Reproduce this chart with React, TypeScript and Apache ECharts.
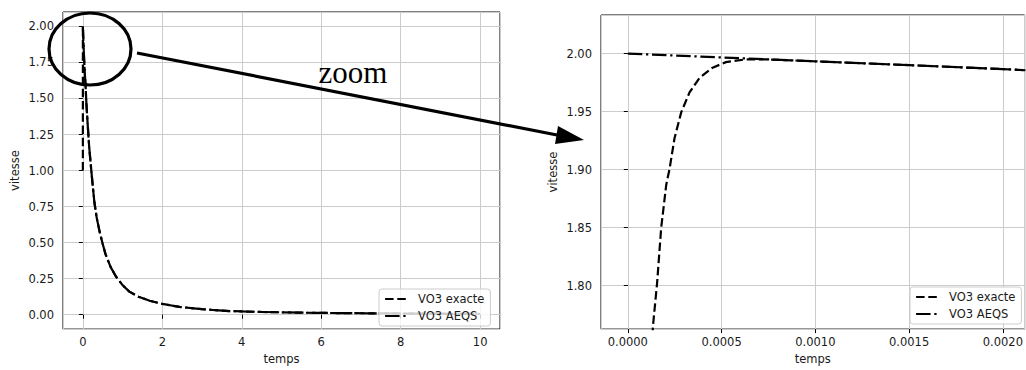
import React, { useEffect, useRef } from "react";
import * as echarts from "echarts";

// ---- Data ----
const seriesNames = ["VO3 exacte", "VO3 AEQS"];

// Left chart: full time range
const leftExacteTimes = [0, 0.0007, 0.015, 0.03, 0.05, 0.067, 0.09, 0.126, 0.16, 0.21, 0.25, 0.29, 0.35, 0.42, 0.5, 0.57, 0.7, 0.84, 1.0, 1.17, 1.4, 1.68, 2.0, 2.43, 3.0, 3.7, 4.5, 5.47, 6.5, 7.56, 8.7, 10];
const leftExacte = [1.0, 1.995, 1.89, 1.78, 1.67, 1.595, 1.46, 1.3, 1.16, 1.008, 0.89, 0.78, 0.67, 0.578, 0.49, 0.42, 0.33, 0.262, 0.205, 0.16, 0.125, 0.097, 0.075, 0.054, 0.038, 0.025, 0.019, 0.014, 0.011, 0.009, 0.007, 0.005];
const leftAeqsTimes = [0, 0.015, 0.03, 0.05, 0.067, 0.09, 0.126, 0.16, 0.21, 0.25, 0.29, 0.35, 0.42, 0.5, 0.57, 0.7, 0.84, 1.0, 1.17, 1.4, 1.68, 2.0, 2.43, 3.0, 3.7, 4.5, 5.47, 6.5, 7.56, 8.7, 10];
const leftAeqs = [2.0, 1.89, 1.78, 1.67, 1.595, 1.46, 1.3, 1.16, 1.008, 0.89, 0.78, 0.67, 0.578, 0.49, 0.42, 0.33, 0.262, 0.205, 0.16, 0.125, 0.097, 0.075, 0.054, 0.038, 0.025, 0.019, 0.014, 0.011, 0.009, 0.007, 0.005];

// Right chart: zoom on the first instants
const rightExacteTimes = [0, 0.00005, 0.0001, 0.000134, 0.000156, 0.000178, 0.000205, 0.000223, 0.000249, 0.000285, 0.000329, 0.000382, 0.000452, 0.000523, 0.000629, 0.00075, 0.001, 0.0015, 0.002, 0.00212];
const rightExacte = [1.0, 1.42, 1.66, 1.765, 1.802, 1.85, 1.887, 1.901, 1.927, 1.9495, 1.9665, 1.979, 1.9878, 1.9926, 1.995, 1.9949, 1.9933, 1.99, 1.9866, 1.9856];
const rightAeqsTimes = [0, 0.0005, 0.001, 0.0015, 0.002, 0.00212];
const rightAeqs = [2.0, 1.9966, 1.9933, 1.99, 1.9866, 1.9856];

const xAxisName = "temps";
const yAxisName = "vitesse";
const annotationText = "zoom";

const FONT = "DejaVu Sans";
const TXT = "#1a1a1a";

function pairs(ts: number[], vs: number[]) {
  return ts.map((t, i) => [t, vs[i]]);
}

function axis(gridIndex: number, min: number, max: number, step: number, decimals: number, name: string, nameGap: number, isX: boolean) {
  return {
    type: "value",
    gridIndex,
    min,
    max,
    minInterval: step,
    maxInterval: step,
    splitNumber: Math.round((max - min) / step),
    name,
    nameLocation: "middle",
    nameGap,
    nameTextStyle: { fontFamily: FONT, fontSize: 11.5, color: TXT },
    axisLine: { show: false },
    axisTick: { show: true, length: 4, lineStyle: { color: "#000", width: 1 } },
    axisLabel: {
      show: true,
      showMinLabel: false,
      showMaxLabel: false,
      margin: isX ? 7 : 9,
      fontFamily: FONT,
      fontSize: 11.5,
      color: TXT,
      formatter: (v: number) => (Math.abs(v) < 1e-12 ? 0 : v).toFixed(decimals),
    },
    splitLine: { show: true, lineStyle: { color: "#cccccc", width: 1 } },
  };
}

const dashed = [8.5, 3.7];
const dashDot = [14.5, 3.7, 2.3, 3.7];

function legend(left: number, top: number) {
  return {
    orient: "vertical",
    left,
    top,
    selectedMode: false,
    data: seriesNames,
    itemWidth: 22,
    itemHeight: 14,
    itemGap: 5,
    padding: [4, 6, 4, 5],
    backgroundColor: "rgba(255,255,255,0.8)",
    borderColor: "#cccccc",
    borderWidth: 1,
    borderRadius: 3,
    lineStyle: { width: 2.2 },
    itemStyle: { color: "rgba(0,0,0,0)", borderColor: "rgba(0,0,0,0)", borderWidth: 0, opacity: 0 },
    textStyle: { fontFamily: FONT, fontSize: 11.5, color: TXT, padding: [0, 0, 0, 6] },
  };
}

export default function App() {
  const ref = useRef<HTMLDivElement>(null);
  useEffect(() => {
    if (!ref.current) return;
    const chart = echarts.init(ref.current, null, { renderer: "svg" });
    const lineSeries = (name: string, xi: number, data: number[][], type: number[]) => ({
      type: "line",
      name,
      xAxisIndex: xi,
      yAxisIndex: xi,
      data,
      symbol: "none",
      showSymbol: false,
      clip: true,
      lineStyle: { color: "#000", width: 2.2, type },
      itemStyle: { color: "#000" },
    });
    chart.setOption({
      animation: false,
      grid: [
        { left: 63, top: 12, width: 437, height: 324.5, show: true, borderColor: "#000", borderWidth: 1, backgroundColor: "transparent", containLabel: false },
        { left: 601, top: 15, width: 426, height: 318, show: true, borderColor: "#000", borderWidth: 1, backgroundColor: "transparent", containLabel: false },
      ],
      xAxis: [
        axis(0, -0.5, 10.5, 2, 0, xAxisName, 20, true),
        axis(1, -0.000143, 0.002116, 0.0005, 4, xAxisName, 22, true),
      ],
      yAxis: [
        axis(0, -0.1, 2.1, 0.25, 2, yAxisName, 42, false),
        axis(1, 1.76255, 2.0332, 0.05, 2, yAxisName, 42, false),
      ],
      legend: [legend(379, 289), legend(910, 287)],
      series: [
        lineSeries(seriesNames[0], 0, pairs(leftExacteTimes, leftExacte), dashed),
        lineSeries(seriesNames[1], 0, pairs(leftAeqsTimes, leftAeqs), dashDot),
        lineSeries(seriesNames[0], 1, pairs(rightExacteTimes, rightExacte), dashed),
        lineSeries(seriesNames[1], 1, pairs(rightAeqsTimes, rightAeqs), dashDot),
      ],
      graphic: [
        {
          type: "ellipse",
          shape: { cx: 90, cy: 49, rx: 41, ry: 36 },
          style: { fill: "none", stroke: "#000", lineWidth: 3.2 },
          z: 100,
        },
        {
          type: "line",
          shape: { x1: 137, y1: 53, x2: 557, y2: 135 },
          style: { stroke: "#000", lineWidth: 3.2 },
          z: 100,
        },
        {
          type: "polygon",
          shape: { points: [[584, 140], [558, 126], [555, 144]] },
          style: { fill: "#000" },
          z: 100,
        },
        {
          type: "text",
          x: 353,
          y: 72,
          style: {
            text: annotationText,
            fontFamily: "Liberation Serif",
            fontSize: 31,
            fill: "#000",
            align: "center",
            verticalAlign: "middle",
          },
          z: 100,
        },
      ],
    });
    return () => chart.dispose();
  }, []);
  return <div ref={ref} style={{ position: "absolute", left: 0, top: 0, width: 1026, height: 370 }} />;
}
